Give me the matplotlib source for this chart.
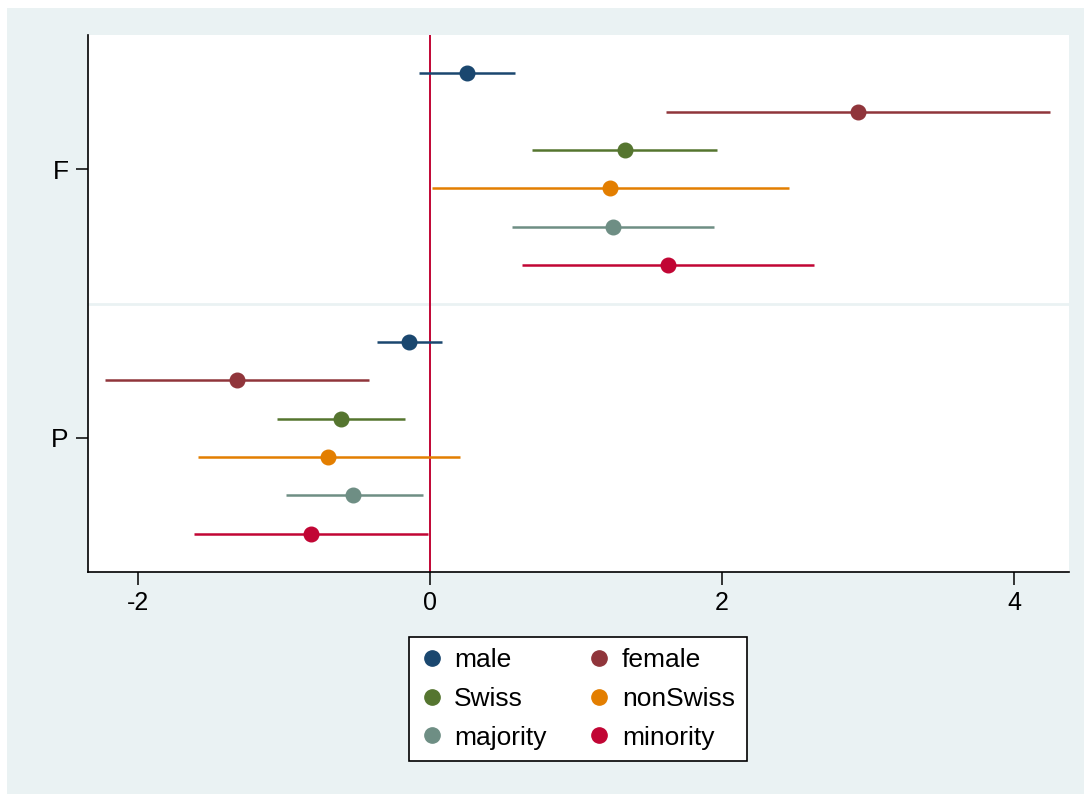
import matplotlib
matplotlib.use("Agg")
import matplotlib.pyplot as plt
from matplotlib.patches import Rectangle
from matplotlib.lines import Line2D

plt.rcParams['font.family'] = ['Liberation Sans', 'DejaVu Sans']

groups = ["F", "P"]
series = ["male", "female", "Swiss", "nonSwiss", "majority", "minority"]
colors = ["#1a476f", "#90353b", "#55752f", "#e37e00", "#6e8e84", "#c10534"]

# point estimates per group (F, P) for each series
est_F = [0.253, 2.93, 1.336, 1.233, 1.253, 1.630]
lo_F = [-0.075, 1.616, 0.699, 0.014, 0.562, 0.630]
hi_F = [0.582, 4.247, 1.966, 2.459, 1.945, 2.630]

est_P = [-0.144, -1.322, -0.610, -0.699, -0.527, -0.815]
lo_P = [-0.363, -2.226, -1.048, -1.589, -0.986, -1.616]
hi_P = [0.082, -0.418, -0.171, 0.205, -0.048, -0.014]

xticks = [-2, 0, 2, 4]

W, H = 1084, 794
fig = plt.figure(figsize=(W / 100, H / 100), dpi=100, facecolor="white")
fig.patches.append(Rectangle((7 / W, 0), 1, (H - 8) / H, transform=fig.transFigure,
                             facecolor="#eaf2f3", edgecolor="none", zorder=-10))

ax = fig.add_axes([88 / W, 1 - 572 / H, (1069 - 88) / W, (572 - 35) / H])
ax.set_facecolor("white")

n = len(series)
handles = []
for g, (est, lo, hi) in enumerate([(est_F, lo_F, hi_F), (est_P, lo_P, hi_P)]):
    for i in range(n):
        y = g * (n + 1) + i
        ax.plot([lo[i], hi[i]], [y, y], color=colors[i], lw=1.8, solid_capstyle="butt", zorder=3)
        ax.plot(est[i], y, "o", color=colors[i], ms=10.5, zorder=4)

for i in range(n):
    handles.append(Line2D([], [], marker="o", ls="none", color=colors[i], ms=11, label=series[i]))

ax.axhline(n, color="#eaf2f3", lw=2, zorder=1)
ax.axvline(0, color="#c10534", lw=1.4, zorder=2)

ax.set_xlim(-2.342, 4.377)
ax.set_ylim(2 * n + 1, -1)
ax.set_xticks(xticks)
ax.set_xticklabels([str(t) for t in xticks], fontsize=18)
ax.set_yticks([(n - 1) / 2, n + 1 + (n - 1) / 2])
ax.set_yticklabels(groups, fontsize=19)
ax.tick_params(axis="both", direction="out", length=9, width=1.1, colors="black", pad=5)
for s in ["top", "right"]:
    ax.spines[s].set_visible(False)
for s in ["left", "bottom"]:
    ax.spines[s].set_linewidth(1.2)

order = [0, 2, 4, 1, 3, 5]
leg = fig.legend([handles[k] for k in order], [series[k] for k in order], ncol=2,
                 loc="center", bbox_to_anchor=(578 / W, 1 - 699 / H),
                 fontsize=19, frameon=True, fancybox=False, edgecolor="black",
                 facecolor="white", framealpha=1,
                 handletextpad=0.45, columnspacing=1.6, labelspacing=0.55,
                 borderpad=0.45, handlelength=0.8)
leg.get_frame().set_linewidth(1.2)

fig.savefig("out.png", dpi=100, facecolor="white")
